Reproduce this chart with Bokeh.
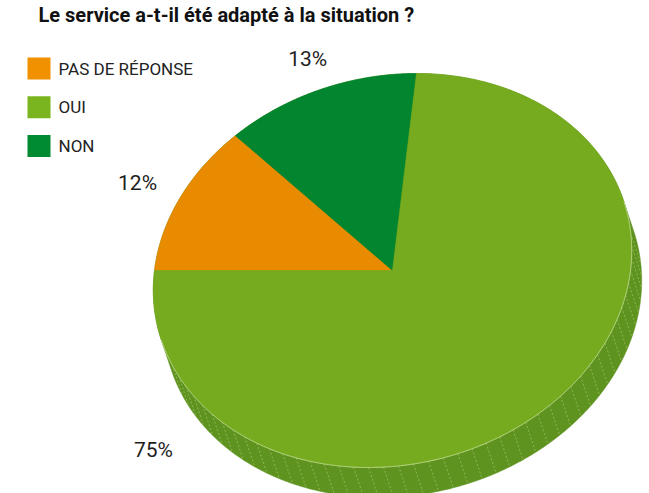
import numpy as np
from bokeh.plotting import figure
from bokeh.models import Range1d
from bokeh.core.properties import value
from bokeh.embed import file_html
from bokeh.resources import INLINE

# ---------------- data ----------------
categories = ["PAS DE RÉPONSE", "OUI", "NON"]
percent = [12, 75, 13]
percent_labels = ["12%", "75%", "13%"]
pie_order = ["PAS DE RÉPONSE", "NON", "OUI"]          # order around the pie
title_text = "Le service a-t-il été adapté à la situation ?"

# ---------------- styles / layout ----------------
W, H = 649, 493
top_colors = {"PAS DE RÉPONSE": "#e88b00", "OUI": "#76ab20", "NON": "#02852f"}
legend_colors = {"PAS DE RÉPONSE": "#f29100", "OUI": "#7ab51f", "NON": "#008a31"}
SIDE_COLOR = "#5f9320"
STRIPE_COLOR = "#b3cf7c"
EDGE_COLOR = "#c2db95"
FONT = value("Roboto")

CX, CY = 392.0, 270.0
E1 = np.array([-238.0, 0.0])     # projected pie axis at angle 0 (pointing left)
E2 = np.array([24.0, -197.0])    # projected pie axis at angle 90 (pointing up)
DEPTH = np.array([10.0, 30.0])   # thickness of the pie
label_angle_shift = {"PAS DE RÉPONSE": 0.0, "NON": 0.0, "OUI": 90.0}
label_radius = {"PAS DE RÉPONSE": 1.2, "NON": 1.17, "OUI": 1.29}


def proj(a_deg, k=1.0):
    a = np.radians(np.asarray(a_deg, dtype=float))
    x = CX + k * (np.cos(a) * E1[0] + np.sin(a) * E2[0])
    y = CY + k * (np.cos(a) * E1[1] + np.sin(a) * E2[1])
    return x, y


def outward_visible(a_deg, thresh=0.0):
    a = np.radians(np.asarray(a_deg, dtype=float))
    x, y = proj(a_deg)
    tx = -np.sin(a) * E1[0] + np.cos(a) * E2[0]
    ty = -np.sin(a) * E1[1] + np.cos(a) * E2[1]
    nx, ny = ty, -tx
    s = np.sign((x - CX) * nx + (y - CY) * ny)
    nx, ny = nx * s, ny * s
    d = (nx * DEPTH[0] + ny * DEPTH[1]) / (np.hypot(nx, ny) * np.hypot(*DEPTH))
    return d > thresh


p = figure(width=W, height=H, x_range=Range1d(0, W), y_range=Range1d(H, 0),
           output_backend="svg", toolbar_location=None, min_border=0,
           background_fill_color="white", border_fill_color="white")
p.axis.visible = False
p.grid.visible = False
p.outline_line_color = None

# ---------------- side (extrusion) ----------------
al = np.linspace(90, 450, 1441)
px, py = proj(al)
vis = outward_visible(al)
hx = np.where(vis, px + DEPTH[0], px)
hy = np.where(vis, py + DEPTH[1], py)
p.patch(hx, hy, fill_color=SIDE_COLOR, line_color=SIDE_COLOR, line_width=0.5)

# stripes on the side
sa = np.arange(90, 450, 3.6)
sx, sy = proj(sa)
svis = outward_visible(sa, 0.15)
p.segment(sx[svis], sy[svis], sx[svis] + DEPTH[0], sy[svis] + DEPTH[1],
          line_color=STRIPE_COLOR, line_width=1, line_dash="2 2", line_alpha=0.55)

# ---------------- top face ----------------
val = dict(zip(categories, percent))
lab = dict(zip(categories, percent_labels))
start = 0.0
lx, ly, lt = [], [], []
for cat in pie_order:
    span = val[cat] / sum(percent) * 360.0
    a = np.linspace(start, start + span, max(int(span * 2), 4))
    x, y = proj(a)
    p.patch(np.concatenate([[CX], x]), np.concatenate([[CY], y]),
            fill_color=top_colors[cat], line_color=top_colors[cat], line_width=0.6)
    mid = start + span / 2 + label_angle_shift[cat]
    xx, yy = proj(mid, label_radius[cat])
    lx.append(float(xx)); ly.append(float(yy)); lt.append(lab[cat])
    start += span

# light edge along the visible front rim
p.line(px[vis], py[vis], line_color=EDGE_COLOR, line_width=1, line_alpha=0.9)

# percentage labels
p.text(x=lx, y=ly, text=lt, text_font=FONT, text_font_size="21px",
       text_color="#1e1e1e", text_align="center", text_baseline="middle")

# ---------------- legend ----------------
ly0, dly = 68.0, 38.8
leg_y = [ly0 + i * dly for i in range(len(categories))]
p.quad(left=[27] * 3, right=[50] * 3,
       top=[y - 11 for y in leg_y], bottom=[y + 11 for y in leg_y],
       fill_color=[legend_colors[c] for c in categories], line_color=None)
p.text(x=[58] * 3, y=leg_y, text=categories, text_font=FONT, text_font_size="17px",
       text_color="#222222", text_align="left", text_baseline="middle")

# ---------------- title ----------------
p.text(x=[38], y=[2], text=[title_text], text_font=FONT, text_font_size="20px",
       text_font_style="bold", text_color="#111111", text_align="left",
       text_baseline="top")

open("out.html", "w").write(file_html(p, INLINE))
